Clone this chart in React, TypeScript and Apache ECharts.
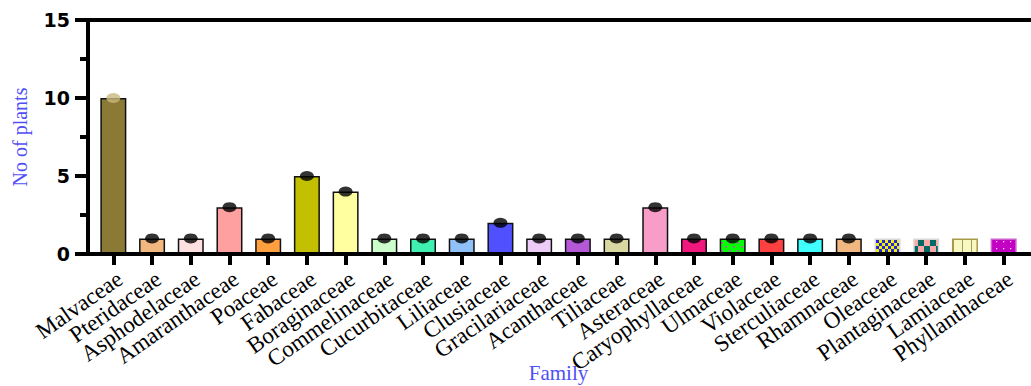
import React, { useEffect, useRef } from "react";
import * as echarts from "echarts";

const families = [
  "Malvaceae", "Pteridaceae", "Asphodelaceae", "Amaranthaceae", "Poaceae", "Fabaceae",
  "Boraginaceae", "Commelinaceae", "Cucurbitaceae", "Liliaceae", "Clusiaceae", "Gracilariaceae",
  "Acanthaceae", "Tiliaceae", "Asteraceae", "Caryophyllaceae", "Ulmaceae", "Violaceae",
  "Sterculiaceae", "Rhamnaceae", "Oleaceae", "Plantaginaceae", "Lamiaceae", "Phyllanthaceae",
];
const counts = [10, 1, 1, 3, 1, 5, 4, 1, 1, 1, 2, 1, 1, 1, 3, 1, 1, 1, 1, 1, 1, 1, 1, 1];
const dotValues = [10, 1, 1, 3, 1, 5, 4, 1, 1, 1, 2, 1, 1, 1, 3, 1, 1, 1, 1, 1, null, null, null, null];
const barColors = [
  "#8b7a36", "#f2b880", "#ffe0e0", "#ffa0a0", "#ffa040", "#c2c000",
  "#ffffa0", "#ccffcc", "#40f0b0", "#90c0f8", "#5050ff", "#eeccf8",
  "#b458d8", "#d8d8a0", "#f89cc8", "#f0187c", "pattern:ulm", "#ff4040",
  "#40ffff", "#f0b880", "pattern:ole", "pattern:pla", "pattern:lam", "pattern:phy",
];
const yTicks = [0, 5, 10, 15];

function makeCanvas(w: number, h: number, draw: (c: CanvasRenderingContext2D) => void) {
  const cv = document.createElement("canvas");
  cv.width = w;
  cv.height = h;
  const ctx = cv.getContext("2d")!;
  draw(ctx);
  return cv;
}

function buildPatterns(): Record<string, any> {
  const ole = makeCanvas(6, 6, (c) => {
    c.fillStyle = "#f2f200"; c.fillRect(0, 0, 6, 6);
    c.fillStyle = "#2424e0"; c.fillRect(0, 0, 3, 3); c.fillRect(3, 3, 3, 3);
  });
  const pla = makeCanvas(12, 12, (c) => {
    c.fillStyle = "#ffa8a8"; c.fillRect(0, 0, 12, 12);
    c.fillStyle = "#006a64"; c.fillRect(6, 0, 6, 6); c.fillRect(0, 6, 6, 6);
  });
  const lam = makeCanvas(9, 9, (c) => {
    c.fillStyle = "#f8f8c4"; c.fillRect(0, 0, 9, 9);
    c.fillStyle = "#a89a48"; c.fillRect(8, 0, 1.5, 9);
  });
  const phy = makeCanvas(7, 7, (c) => {
    c.fillStyle = "#c400c4"; c.fillRect(0, 0, 7, 7);
    c.fillStyle = "#ffffff"; c.fillRect(2, 3, 1.2, 1.2);
  });
  const ulm = makeCanvas(8, 8, (c) => {
    c.fillStyle = "#00ff00"; c.fillRect(0, 0, 8, 8);
    c.fillStyle = "#e040d0"; c.fillRect(1, 2, 2, 1.5); c.fillRect(5, 6, 2, 1.5);
  });
  const p = (img: HTMLCanvasElement) => ({ image: img, repeat: "repeat" });
  return { "pattern:ole": p(ole), "pattern:pla": p(pla), "pattern:lam": p(lam), "pattern:phy": p(phy), "pattern:ulm": p(ulm) };
}

export default function App() {
  const ref = useRef<HTMLDivElement>(null);
  useEffect(() => {
    if (!ref.current) return;
    const chart = echarts.init(ref.current, undefined, { renderer: "svg" });
    const patterns = buildPatterns();
    const borderFor = (col: string) => {
      if (col === "pattern:ole" || col === "pattern:pla") return "#d8d8d8";
      if (col === "pattern:lam") return "#a89a48";
      if (col === "pattern:phy") return "#d060d0";
      return "#111111";
    };
    const barData = counts.map((v, i) => {
      const col = barColors[i];
      return {
        value: v,
        itemStyle: {
          color: col.startsWith("pattern:") ? patterns[col] : col,
          borderColor: borderFor(col),
          borderWidth: 1.5,
        },
      };
    });
    const dotData = dotValues.map((v, i) =>
      v == null ? "-" : { value: v, itemStyle: { color: i === 0 ? "#c8b87e" : "#000000" } }
    );
    chart.setOption({
      animation: false,
      backgroundColor: "#ffffff",
      grid: { left: 94, right: 8, top: 20, bottom: 132, containLabel: false, outerBoundsMode: "none" },
      xAxis: {
        type: "category",
        data: families,
        axisLine: { show: false },
        axisTick: { show: true, alignWithLabel: true, length: 11, lineStyle: { color: "#000", width: 4 } },
        axisLabel: {
          interval: 0,
          rotate: 35,
          margin: 13,
          verticalAlign: "top",
          color: "#000",
          fontFamily: "Liberation Serif",
          fontSize: 23,
        },
        name: "Family",
        nameLocation: "middle",
        nameGap: 108,
        nameMoveOverlap: false,
        nameTextStyle: { color: "#4f4ff5", fontFamily: "Liberation Serif", fontSize: 21 },
      },
      yAxis: {
        type: "value",
        min: yTicks[0],
        max: yTicks[yTicks.length - 1],
        interval: 5,
        offset: 6,
        axisLine: { show: true, lineStyle: { color: "#000", width: 4 } },
        axisTick: { show: true, length: 13, lineStyle: { color: "#000", width: 4 } },
        minorTick: { show: true, splitNumber: 2, length: 8, lineStyle: { color: "#000", width: 4 } },
        splitLine: { show: false },
        axisLabel: {
          margin: 18,
          color: "#000",
          fontFamily: "DejaVu Sans",
          fontWeight: "bold",
          fontSize: 19,
        },
        name: "No of plants",
        nameLocation: "middle",
        nameGap: 58,
        nameMoveOverlap: false,
        nameTextStyle: { color: "#4f4ff5", fontFamily: "Liberation Serif", fontSize: 20 },
      },
      graphic: [
        { type: "line", z: 10, shape: { x1: 86, y1: 20, x2: 1031, y2: 20 }, style: { stroke: "#000", lineWidth: 4 } },
        { type: "line", z: 10, shape: { x1: 86, y1: 254, x2: 1031, y2: 254 }, style: { stroke: "#000", lineWidth: 4 } },
      ],
      series: [
        {
          type: "bar",
          data: barData,
          barWidth: 26,
        },
        {
          type: "scatter",
          data: dotData,
          symbol: "circle",
          symbolSize: [14, 10],
          z: 5,
        },
      ],
    });
    return () => chart.dispose();
  }, []);
  return (
    <div
      ref={ref}
      style={{ position: "fixed", left: 0, top: 0, width: 1031, height: 386, background: "#fff" }}
    />
  );
}
